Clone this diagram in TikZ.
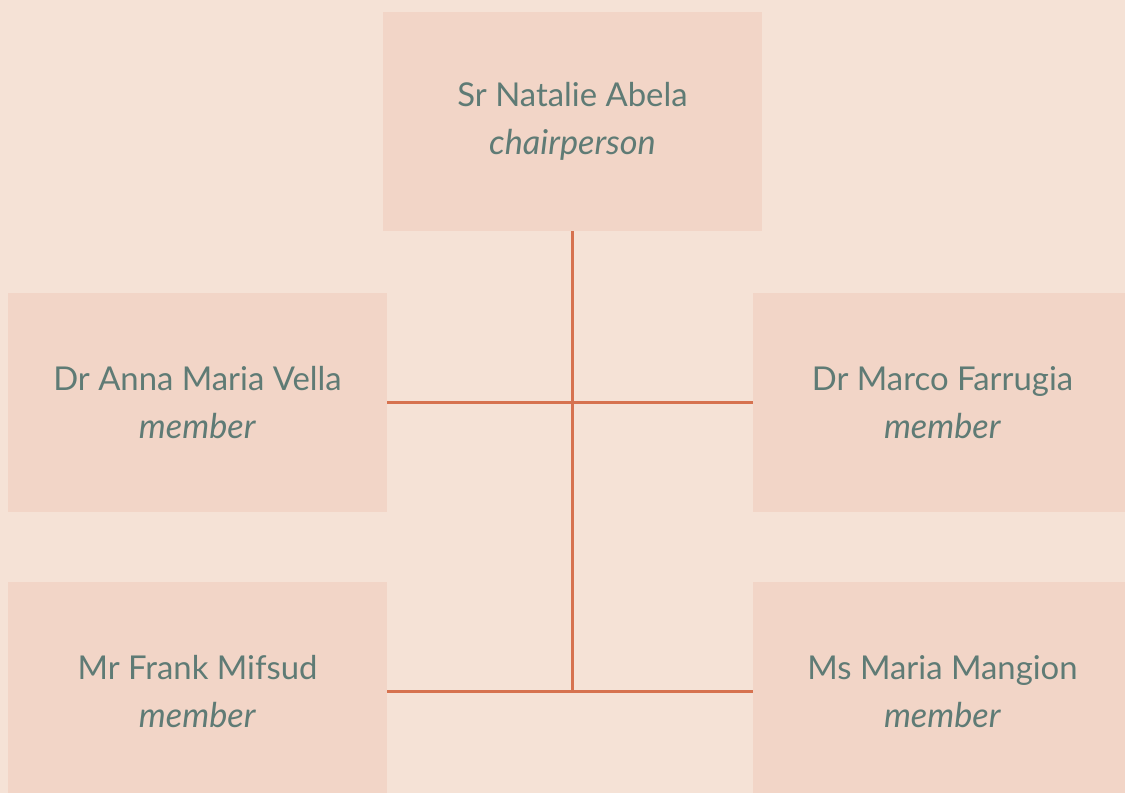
\documentclass[tikz,border=0pt]{standalone}
\usepackage{fontspec}
\setmainfont{Lato}
\usepackage{xcolor}
\definecolor{pagebg}{HTML}{F5E2D6}
\definecolor{boxbg}{HTML}{F2D5C7}
\definecolor{linkred}{HTML}{D6724F}
\definecolor{nametxt}{HTML}{5F7B75}
\tikzset{
    person/.style={fill=boxbg,minimum width=7.58cm,minimum height=4.38cm,
        inner sep=0,align=center,text=nametxt,
        font=\fontsize{18.7}{27}\selectfont},
    link/.style={linkred,line width=1.4pt},
}
\newcommand{\role}[1]{\\{\fontsize{19.5}{27}\selectfont\textit{#1}}}

\begin{document}
\begin{tikzpicture}[x=0.02cm,y=-0.02cm]
    \fill[pagebg] (0,0) rectangle (1125,793);
    \useasboundingbox (0,0) rectangle (1125,793);
    \clip (0,0) rectangle (1125,793);
    \node[person] (chair) at (572.5,121.5) {Sr Natalie Abela\role{chairperson}};
    \node[person] (vella) at (197.5,402.5) {Dr Anna Maria Vella\role{member}};
    \node[person] (farrugia) at (942.5,402.5) {Dr Marco Farrugia\role{member}};
    \node[person] (mifsud) at (197.5,691.5) {Mr Frank Mifsud\role{member}};
    \node[person] (mangion) at (942.5,691.5) {Ms Maria Mangion\role{member}};
    \coordinate (foot) at (572.5,691.5);
    \draw[link] (chair.south) -- (foot);
    \draw[link] (vella.east) -- (farrugia.west);
    \draw[link] (mifsud.east) -- (mangion.west);
\end{tikzpicture}
\end{document}
